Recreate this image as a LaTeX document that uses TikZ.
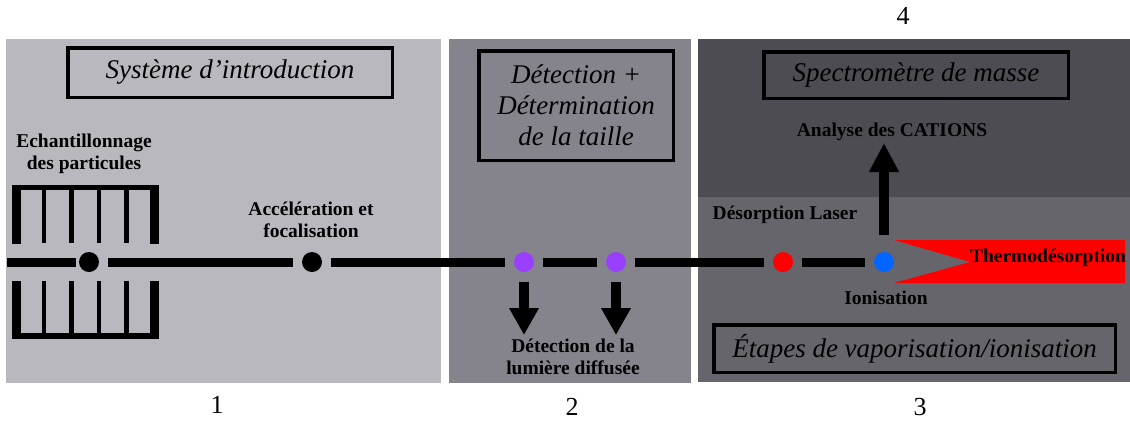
\documentclass[tikz,border=0pt]{standalone}
\usepackage{fontspec}
\setmainfont{Liberation Serif}
\usetikzlibrary{arrows.meta}
\definecolor{panelA}{HTML}{B9B8BE}
\definecolor{panelB}{HTML}{85848C}
\definecolor{panelC}{HTML}{4D4C52}
\definecolor{panelD}{HTML}{66656C}
\definecolor{dotviolet}{HTML}{9940FF}
\definecolor{dotblue}{HTML}{0066FF}
\definecolor{wedgered}{HTML}{FF0000}
\begin{document}
\begin{tikzpicture}[x=1pt,y=-1pt,
  titlebox/.style={draw=black,line width=3.5pt,inner sep=0pt,align=center,font=\itshape\fontsize{27}{31}\selectfont},
  lab/.style={align=center,inner sep=0pt,font=\bfseries\fontsize{19.5}{22}\selectfont},
  numlab/.style={inner sep=0pt,font=\fontsize{26}{30}\selectfont},
  beamdot/.style={circle,inner sep=0pt,minimum size=20pt},
  beam/.style={line width=9pt,shorten <=8.5pt,shorten >=8.5pt},
  bigarrow/.style={line width=10pt,-{Triangle[width=28pt,length=27pt]}}
]
\useasboundingbox (0,0) rectangle (1130,421);
\fill[white] (0,0) rectangle (1130,421);
% panels
\fill[panelA] (6,39) rectangle (441,383);
\fill[panelB] (449,39) rectangle (691,383);
\fill[panelC] (698,39) rectangle (1130,197);
\fill[panelD] (698,197) rectangle (1130,382);
% grid (upper)
\fill[black] (12,185) rectangle (159,190);
\fill[black] (12,185) rectangle (21,244);
\fill[black] (150,185) rectangle (159,244);
\foreach \gx in {44,71.5,99,126.5}{
  \fill[black] (\gx-2.3,185) rectangle (\gx+2.3,243);
  \fill[black] (\gx-2.3,281) rectangle (\gx+2.3,339);
}
% grid (lower)
\fill[black] (12,333) rectangle (159,339);
\fill[black] (12,281) rectangle (21,339);
\fill[black] (150,281) rectangle (159,339);
% red wedge
\fill[wedgered] (894,240) -- (1125,240) -- (1125,283) -- (894,283) -- (970,262) -- cycle;
% beam dots
\coordinate (s0) at (7,262);
\node[beamdot,fill=black] (d1) at (89,262) {};
\node[beamdot,fill=black] (d2) at (312,262) {};
\node[beamdot,fill=dotviolet] (pa) at (524,262) {};
\node[beamdot,fill=dotviolet] (pb) at (616,262) {};
\node[beamdot,fill=wedgered] (rd) at (783,262) {};
\node[beamdot,fill=dotblue] (bl) at (884,262) {};
% beam segments
\draw[line width=9pt,shorten >=3pt] (s0) -- (d1);
\draw[beam] (d1) -- (d2);
\draw[beam] (d2) -- (pa);
\draw[beam] (pa) -- (pb);
\draw[beam] (pb) -- (rd);
\draw[beam] (rd) -- (bl);
% arrows
\coordinate (tipa) at (524,335);
\coordinate (tipb) at (616,335);
\coordinate (tipu) at (884,143);
\draw[bigarrow,shorten <=10pt] (pa) -- (tipa);
\draw[bigarrow,shorten <=10pt] (pb) -- (tipb);
\draw[bigarrow,-{Triangle[width=28pt,length=29pt]},shorten <=17pt] (bl) -- (tipu);
% title boxes
\node[titlebox,minimum width=324.5pt,minimum height=49.5pt] (t1) at (230,72.5) {Système d’introduction};
\node[titlebox,minimum width=194.5pt,minimum height=109.5pt] (t2) at (576,105.5) {Détection +\\Détermination\\de la taille};
\node[titlebox,minimum width=304.5pt,minimum height=46.5pt] (t3) at (916,75) {Spectromètre de masse};
\node[titlebox,minimum width=401.5pt,minimum height=47.5pt] (t4) at (914.5,348.5) {Étapes de vaporisation/ionisation};
% labels
\node[lab] (lech) at (84,154) {Echantillonnage\\des particules};
\node[lab] (lacc) at (311,220) {Accélération et\\focalisation};
\node[lab] (ldet) at (573,357) {Détection de la\\lumière diffusée};
\node[lab] (lana) at (892,132) {Analyse des CATIONS};
\node[lab] (ldes) at (785,215) {Désorption Laser};
\node[lab] (lthe) at (1048,258) {Thermodésorption};
\node[lab] (lion) at (886,298) {Ionisation};
% numbers
\node[numlab] (n4) at (903,16) {4};
\node[numlab] (n1) at (217,405) {1};
\node[numlab] (n2) at (572,407) {2};
\node[numlab] (n3) at (920,407) {3};
\end{tikzpicture}
\end{document}
